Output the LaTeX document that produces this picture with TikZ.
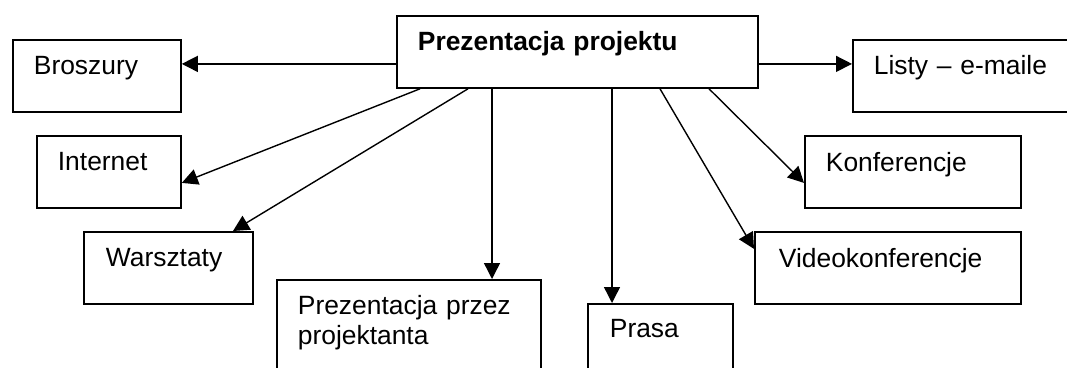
\documentclass[tikz,border=0pt]{standalone}
\usepackage{fontspec}
\setmainfont{Liberation Sans}
\usepackage{tikz}
\usetikzlibrary{
  arrows.meta,
  positioning,
  calc
}
\tikzset{>={Triangle[length=16pt, width=16pt]}}
\tikzset{box/.style={draw=black, line width=1.8pt, anchor=north west,
    inner ysep=0pt, inner xsep=21pt, align=left,
    text height=35pt, text depth=37pt,
    font=\fontsize{26.4}{30}\selectfont}}
\tikzset{arr/.style={->, line width=1.4pt}}

\begin{document}
\begin{tikzpicture}[x=1pt, y=-1pt]
      \useasboundingbox (0, 0) rectangle (1067, 367);
      % central box
      \node[box, text width=319pt, font=\fontsize{26.4}{30}\selectfont\bfseries] (main) at (396, 15) {Prezentacja projektu};
      % left side
      \node[box, text width=126pt] (brosz) at (12, 39) {Broszury};
      \node[box, text width=102pt] (inet) at (36, 135) {Internet};
      \node[box, text width=125pt, inner xsep=22pt] (warsz) at (83, 231) {Warsztaty};
      % bottom
      \node[box, text width=222pt, text depth=120pt] (prez) at (276, 279) {Prezentacja przez\\projektanta};
      \node[box, text width=101pt, inner xsep=22pt, text height=34pt, text depth=100pt] (prasa) at (587, 303) {Prasa};
      % right side
      \node[box, text width=218pt, inner xsep=24pt, text height=36pt, text depth=36pt] (video) at (754, 231) {Videokonferencje};
      \node[box, text width=174pt, text height=36pt, text depth=36pt] (konf) at (804, 135) {Konferencje};
      \node[box, text width=218pt] (listy) at (852, 39) {Listy -- e-maile};
      % connectors
      \draw[arr] ([yshift=-12pt]main.west) -- ([yshift=-12pt]main.west -| brosz.east);
      \draw[arr] ([yshift=-12pt]main.east) -- ([yshift=-12pt]main.east -| listy.west);
      \draw[arr] ([xshift=24pt]main.south west) -- ([yshift=-11pt]inet.east);
      \draw[arr] ([xshift=72pt]main.south west) -- ([xshift=150pt]warsz.north west);
      \draw[arr] ([xshift=96pt]main.south west) -- ([xshift=96pt]main.south west |- prez.north);
      \draw[arr] ([xshift=216pt]main.south west) -- ([xshift=216pt]main.south west |- prasa.north);
      \draw[arr] ([xshift=264pt]main.south west) -- ([yshift=19pt]video.west);
      \draw[arr] ([xshift=313pt]main.south west) -- ([yshift=-11pt]konf.west);
\end{tikzpicture}
\end{document}
